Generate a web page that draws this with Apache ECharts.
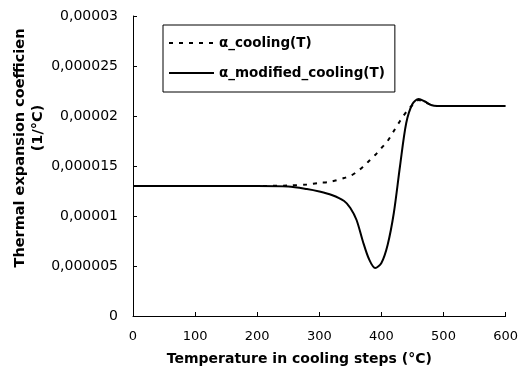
<!DOCTYPE html>
<html>
<head>
<meta charset="utf-8">
<script src="https://cdn.jsdelivr.net/npm/echarts@6/dist/echarts.min.js"></script>
<style>html,body{margin:0;padding:0;background:#fff;}#c{width:521px;height:375px;}</style>
</head>
<body>
<div id="c"></div>
<script>
var temps = [0, 50, 100, 150, 200, 250, 280, 300, 320, 340, 350, 360, 370, 380, 390, 400, 410, 420, 430, 440, 450, 460, 470, 480, 490, 500, 550, 600];
var alphaCooling = [0.000013, 0.000013, 0.000013, 0.000013, 0.000013, 0.00001305, 0.00001315, 0.0000133, 0.00001345, 0.0000138, 0.000014, 0.0000144, 0.0000149, 0.0000155, 0.0000161, 0.0000168, 0.0000175, 0.0000185, 0.0000195, 0.0000204, 0.0000211, 0.0000216, 0.0000214, 0.0000211, 0.000021, 0.000021, 0.000021, 0.000021];
var alphaModified = [0.000013, 0.000013, 0.000013, 0.000013, 0.000013, 0.00001295, 0.0000127, 0.00001245, 0.0000121, 0.0000115, 0.0000108, 0.0000096, 0.0000075, 0.0000057, 0.0000048, 0.0000053, 0.0000071, 0.0000103, 0.000015, 0.0000193, 0.0000212, 0.0000217, 0.00002145, 0.0000211, 0.000021, 0.000021, 0.000021, 0.000021];
var xTickLabels = ['0', '100', '200', '300', '400', '500', '600'];
var yTickLabels = ['0', '0,000005', '0,00001', '0,000015', '0,00002', '0,000025', '0,00003'];
var seriesNames = ['\u03b1_cooling(T)', '\u03b1_modified_cooling(T)'];
var xTitle = 'Temperature in cooling steps (\u00b0C)';
var yTitle1 = 'Thermal expansion coefficien';
var yTitle2 = '(1/\u00b0C)';

function pairs(xs, ys) { return xs.map(function (x, i) { return [x, ys[i]]; }); }

var chart = echarts.init(document.getElementById('c'), null, {renderer: 'canvas'});
var fam = 'DejaVu Sans';
chart.setOption({
  animation: false,
  backgroundColor: '#fff',
  grid: {left: 133, right: 14, top: 16, bottom: 59, containLabel: false},
  legend: {
    orient: 'vertical', left: 163, top: 25,
    padding: [11, 10, 12, 5],
    itemGap: 16, itemWidth: 45, itemHeight: 14,
    borderColor: '#000', borderWidth: 1, backgroundColor: '#fff',
    itemStyle: {opacity: 0},
    textStyle: {fontFamily: fam, fontSize: 13.5, fontWeight: 'bold', color: '#000'},
    data: seriesNames
  },
  xAxis: {
    type: 'value', min: 0, max: 600, interval: 100,
    axisLine: {show: true, lineStyle: {color: '#000', width: 1}},
    axisTick: {show: true, inside: true, length: 4, lineStyle: {color: '#000'}},
    splitLine: {show: false},
    axisLabel: {margin: 14, fontFamily: fam, fontSize: 13, color: '#000',
      formatter: function (v, i) { return xTickLabels[i]; }},
    name: xTitle, nameLocation: 'middle', nameGap: 36,
    nameTextStyle: {fontFamily: fam, fontSize: 14, fontWeight: 'bold', color: '#000', padding: [0, 40, 0, 0]}
  },
  yAxis: {
    type: 'value', min: 0, max: 0.00003, interval: 0.000005,
    axisLine: {show: true, lineStyle: {color: '#000', width: 1}},
    axisTick: {show: true, inside: true, length: 4, lineStyle: {color: '#000'}},
    splitLine: {show: false},
    axisLabel: {margin: 15, fontFamily: fam, fontSize: 14, color: '#000',
      formatter: function (v, i) { return yTickLabels[i]; }}
  },
  graphic: [
    {type: 'text', x: 20, y: 148, rotation: Math.PI / 2,
      style: {text: yTitle1, fontFamily: fam, fontSize: 14.5, fontWeight: 'bold', fill: '#000', align: 'center', verticalAlign: 'middle'}},
    {type: 'text', x: 38, y: 128, rotation: Math.PI / 2,
      style: {text: yTitle2, fontFamily: fam, fontSize: 14.5, fontWeight: 'bold', fill: '#000', align: 'center', verticalAlign: 'middle'}}
  ],
  series: [
    {name: seriesNames[0], type: 'line', data: pairs(temps, alphaCooling), showSymbol: false, symbol: 'none',
      smooth: 0.3,
      lineStyle: {color: '#000', width: 2, type: [4, 6]}, itemStyle: {color: '#000'}},
    {name: seriesNames[1], type: 'line', data: pairs(temps, alphaModified), showSymbol: false, symbol: 'none',
      smooth: 0.3,
      lineStyle: {color: '#000', width: 2, type: 'solid'}, itemStyle: {color: '#000'}}
  ]
});
</script>
</body>
</html>
